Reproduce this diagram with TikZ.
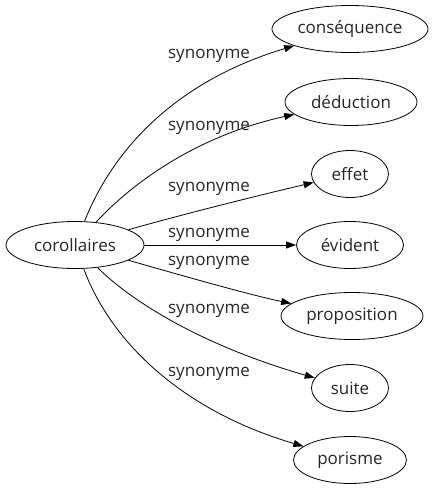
\documentclass[tikz,border=0pt]{standalone}
\usepackage{fontspec}
\setmainfont{Open Sans}
\usetikzlibrary{arrows.meta,shapes.geometric}
\begin{document}
\begin{tikzpicture}[x=1pt,y=-1pt,
  every node/.style={font=\fontsize{17}{19}\selectfont, text=black!85},
  nd/.style={draw, ellipse, line width=0.8pt, inner sep=0pt, minimum height=47pt},
  lbl/.style={inner sep=0pt},
  edge/.style={draw, line width=0.8pt, -{Triangle[length=10pt,width=7pt]}}]
\useasboundingbox (0,0) rectangle (436,491);
\node[nd, minimum width=138pt] (c) at (75,245) {corollaires};
\node[nd, minimum width=156pt] (n1) at (350,29) {conséquence};
\node[nd, minimum width=132pt] (n2) at (351,102) {déduction};
\node[nd, minimum width=77pt] (n3) at (350,174) {effet};
\node[nd, minimum width=107pt] (n4) at (350,245) {évident};
\node[nd, minimum width=142pt] (n5) at (352,316) {proposition};
\node[nd, minimum width=77pt] (n6) at (350,388) {suite};
\node[nd, minimum width=113pt] (n7) at (350,460) {porisme};
\draw[edge] (c) .. controls (115,145) and (180,80) .. (n1);
\draw[edge] (c) .. controls (135,180) and (200,135) .. (n2);
\draw[edge] (c) .. controls (180,215) and (260,195) .. (n3);
\draw[edge] (c) -- (n4);
\draw[edge] (c) .. controls (180,275) and (250,295) .. (n5);
\draw[edge] (c) .. controls (130,300) and (200,345) .. (n6);
\draw[edge] (c) .. controls (110,340) and (180,410) .. (n7);
\node[lbl] (l1) at (209,56) {synonyme};
\node[lbl] (l2) at (209,128) {synonyme};
\node[lbl] (l3) at (209,189) {synonyme};
\node[lbl] (l4) at (209,235) {synonyme};
\node[lbl] (l5) at (209,263) {synonyme};
\node[lbl] (l6) at (209,311) {synonyme};
\node[lbl] (l7) at (209,374) {synonyme};
\end{tikzpicture}
\end{document}
